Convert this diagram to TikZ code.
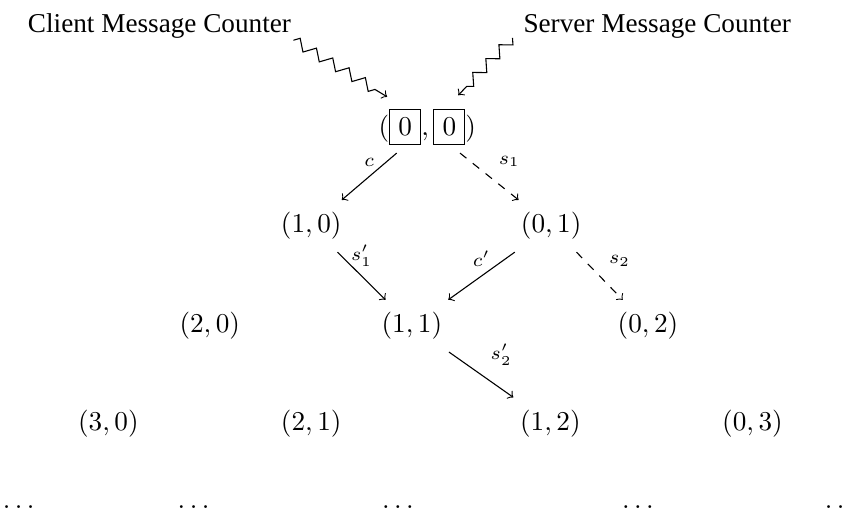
\documentclass[tikz,border=0pt]{standalone}
\usepackage{amsmath}
\usepackage[no-math]{fontspec}
\setmainfont{Liberation Serif}
\usepackage{tikz}
\usetikzlibrary{arrows,positioning,calc,decorations.pathmorphing}

\begin{document}
\begin{tikzpicture}[
		state/.style={inner sep=4.4pt},
		lbl/.style={font=\scriptsize},
		squiggle/.style={->, decorate, decoration={zigzag, segment length=7pt, amplitude=1.9pt, post length=4pt}}
	]
	\useasboundingbox (0,0) rectangle (10.98,-6.65);
	% counters
	\node (client) at (2.06,-0.34) {Client Message Counter};
	\node (server) at (8.49,-0.34) {Server Message Counter};
	% states
	\node[state, inner sep=2.8pt] (c00) at (5.52,-1.64) {$(\boxed{0},\boxed{0})$};
	\node[state] (c10) at (4.02,-2.92) {$(1,0)$};
	\node[state] (c01) at (7.12,-2.92) {$(0,1)$};
	\node[state] (c20) at (2.71,-4.21) {$(2,0)$};
	\node[state] (c11) at (5.32,-4.21) {$(1,1)$};
	\node[state] (c02) at (8.37,-4.21) {$(0,2)$};
	\node[state] (c30) at (1.40,-5.47) {$(3,0)$};
	\node[state] (c21) at (4.02,-5.47) {$(2,1)$};
	\node[state] (c12) at (7.11,-5.47) {$(1,2)$};
	\node[state] (c03) at (9.72,-5.47) {$(0,3)$};
	\foreach \x [count=\i] in {0.27,2.53,5.17,8.27,10.89}
		\node (d\i) at (\x,-6.55) {$\dots$};
	% squiggly pointers
	\coordinate (ctail) at (3.79,-0.52);
	\coordinate (ctip) at (5.00,-1.25);
	\coordinate (stail) at (6.62,-0.49);
	\coordinate (stip) at (5.92,-1.23);
	\draw[squiggle] (ctail) -- (ctip);
	\draw[squiggle] (stail) -- (stip);
	% transitions
	\draw[->] (c00) -- node[lbl, above] {$c$} (c10);
	\draw[->, dashed] (c00) -- node[lbl, above right] {$s_1$} (c01);
	\draw[->] (c10) -- node[lbl, above] {$s'_1$} (c11);
	\draw[->] (c01) -- node[lbl, above] {$c'$} (c11);
	\draw[->, dashed] (c01) -- node[lbl, above right] {$s_2$} (c02);
	\draw[->] (c11) -- node[lbl, above right] {$s'_2$} (c12);
\end{tikzpicture}
\end{document}
